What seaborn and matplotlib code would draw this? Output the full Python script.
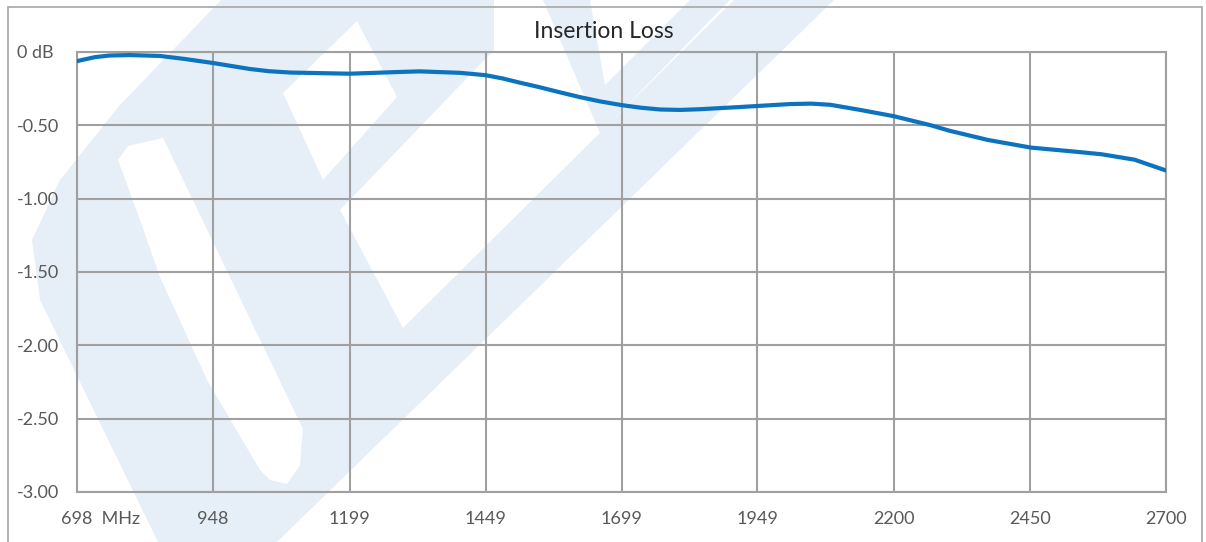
import numpy as np
import pandas as pd
import seaborn as sns
import matplotlib
matplotlib.use("Agg")
import matplotlib.pyplot as plt
from matplotlib.patches import Rectangle, PathPatch
from matplotlib.path import Path
from matplotlib.transforms import ScaledTranslation

# ---------------- data ----------------
freq_mhz = [698, 731, 758, 795, 851, 897, 948, 1016, 1051, 1090, 1199, 1292, 1328,
            1402, 1449, 1480, 1512, 1546, 1587, 1623, 1660, 1699, 1735, 1770, 1807,
            1844, 1917, 1949, 2009, 2048, 2083, 2138, 2200, 2268, 2301, 2373, 2452,
            2526, 2581, 2642, 2700]
insertion_loss_db = [-0.062, -0.035, -0.024, -0.021, -0.027, -0.048, -0.075, -0.116,
                     -0.131, -0.140, -0.148, -0.136, -0.132, -0.142, -0.158, -0.180,
                     -0.209, -0.238, -0.276, -0.308, -0.337, -0.362, -0.380, -0.392,
                     -0.395, -0.390, -0.375, -0.368, -0.355, -0.352, -0.360, -0.395,
                     -0.438, -0.500, -0.536, -0.600, -0.652, -0.677, -0.697, -0.734,
                     -0.808]
x_ticks = [698, 948, 1199, 1449, 1699, 1949, 2200, 2450, 2700]
x_tick_labels = ["698  MHz", "948", "1199", "1449", "1699", "1949", "2200", "2450", "2700"]
y_ticks = [0, -0.5, -1.0, -1.5, -2.0, -2.5, -3.0]
y_tick_labels = ["0 dB", "-0.50", "-1.00", "-1.50", "-2.00", "-2.50", "-3.00"]
title = "Insertion Loss"

df = pd.DataFrame({"freq": freq_mhz, "il": insertion_loss_db})

# ---------------- style ----------------
sns.set_theme(style="white")
plt.rcParams["font.family"] = ["Lato", "DejaVu Sans"]

W, H = 1206, 542
fig = plt.figure(figsize=(W / 100, H / 100), dpi=100)
fig.patch.set_facecolor("white")


def P(x, y):
    return (x / W, 1 - y / H)


def ring(pts, ccw=True):
    a = 0.0
    for (x1, y1), (x2, y2) in zip(pts, pts[1:] + pts[:1]):
        a += x1 * y2 - x2 * y1
    a = -a  # pixel coords have y downward
    if (a > 0) != ccw:
        pts = pts[::-1]
    v = [P(*p) for p in pts] + [P(*pts[0])]
    c = [Path.MOVETO] + [Path.LINETO] * (len(pts) - 1) + [Path.CLOSEPOLY]
    return v, c


def add_shape(outer, holes=()):
    verts, codes = ring(outer, True)
    for h in holes:
        v, c = ring(h, False)
        verts += v
        codes += c
    fig.patches.append(PathPatch(Path(verts, codes), transform=fig.transFigure,
                                 facecolor="#E6EEF7", edgecolor="none", zorder=0))


# decorative watermark logo in the background
logo_outer = [(221, 0), (494, 0), (494, 50), (340, 210), (403, 328), (734, 0),
              (834, 0), (277, 542), (158, 542), (40, 300), (32, 240), (60, 180),
              (120, 105)]
finger = [(118, 160), (128, 146), (163, 138), (303, 429), (300, 465), (287, 484),
          (270, 480), (260, 470), (207, 380), (160, 277), (140, 220)]
diamond = [(283, 93), (357, 21), (397, 97), (323, 180)]
add_shape(logo_outer, [finger, diamond])
add_shape([(543, 0), (730, 0), (600, 133)], [[(590, 0), (690, 0), (605, 85)]])

# outer chart frame
fig.patches.append(Rectangle(P(8, 560), (1202 - 8) / W, (560 - 7) / H,
                             transform=fig.transFigure, facecolor="none",
                             edgecolor="#A6A6A6", linewidth=1.2, zorder=1))

# ---------------- axes ----------------
ax = fig.add_axes([77 / W, (H - 492) / H, (1166 - 77) / W, (492 - 52) / H])
ax.set_zorder(3)
ax.set_facecolor("none")
ax.patch.set_alpha(0)

grid_c = "#A0A0A0"
sns.lineplot(data=df, x="freq", y="il", ax=ax, color="#0C73BE", linewidth=3.0,
             zorder=5)

ax.set_xlim(698, 2700)
ax.set_ylim(-3.0, 0)
ax.set_xticks(x_ticks)
ax.set_xticklabels(x_tick_labels)
ax.set_yticks(y_ticks)
ax.set_yticklabels(y_tick_labels)
ax.set_xlabel("")
ax.set_ylabel("")
ax.grid(True, color=grid_c, linewidth=1.5)
ax.set_axisbelow(True)
for s in ax.spines.values():
    s.set_visible(True)
    s.set_color(grid_c)
    s.set_linewidth(1.5)

lab_size = 13
ax.tick_params(axis="both", length=0, labelsize=lab_size, labelcolor="#595959")
ax.tick_params(axis="x", pad=14)
ax.tick_params(axis="y", pad=43)
for lbl in ax.get_yticklabels():
    lbl.set_horizontalalignment("left")

# centre the number "698" of the first label on its gridline
renderer = fig.canvas.get_renderer()
tmp = fig.text(0, 0, "698", fontsize=lab_size)
w_px = tmp.get_window_extent(renderer).width
tmp.remove()
first = ax.get_xticklabels()[0]
first.set_horizontalalignment("left")
first.set_transform(first.get_transform() +
                    ScaledTranslation(-w_px / 2 / 100, 0, fig.dpi_scale_trans))

fig.text(604 / W, 1 - 31 / H, title, ha="center", va="center", fontsize=16.5,
         color="#262626")

fig.savefig("out.png", dpi=100, facecolor="white")
